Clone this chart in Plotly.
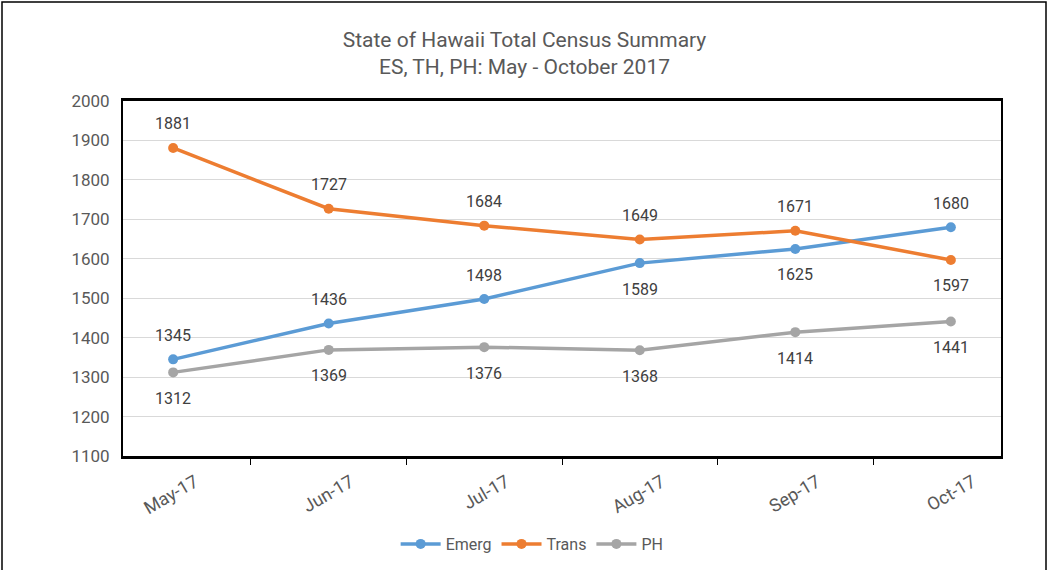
import plotly.graph_objects as go

months = ["May-17", "Jun-17", "Jul-17", "Aug-17", "Sep-17", "Oct-17"]
emerg = [1345, 1436, 1498, 1589, 1625, 1680]
trans = [1881, 1727, 1684, 1649, 1671, 1597]
ph = [1312, 1369, 1376, 1368, 1414, 1441]

emerg_pos = ["above", "above", "above", "below", "below", "above"]
trans_pos = ["above", "above", "above", "above", "above", "below"]
ph_pos = ["below"] * 6

FONT = "Liberation Sans Narrow, Roboto, Arial Narrow, sans-serif"
TXT = "#595959"

fig = go.Figure()
series = [("Emerg", emerg, "#5B9BD5", emerg_pos),
          ("Trans", trans, "#ED7D31", trans_pos),
          ("PH", ph, "#A5A5A5", ph_pos)]
for name, vals, col, pos in series:
    fig.add_trace(go.Scatter(x=months, y=vals, name=name, mode="lines+markers",
                             line=dict(color=col, width=3.5),
                             marker=dict(color=col, size=10)))
    for m, v, p in zip(months, vals, pos):
        fig.add_annotation(x=m, y=v, text=str(v), showarrow=False,
                           yshift=24 if p == "above" else -26,
                           font=dict(family=FONT, size=16, color="#404040"))

fig.update_layout(
    width=1049, height=570,
    paper_bgcolor="white", plot_bgcolor="white",
    margin=dict(l=123, r=48, t=101, b=114, autoexpand=False),
    font=dict(family=FONT, color=TXT),
    title=dict(text="State of Hawaii Total Census Summary<br>ES, TH, PH: May - October 2017",
               x=0.5, xanchor="center", y=0.918, yanchor="top",
               font=dict(family=FONT, size=21, color=TXT)),
    showlegend=True,
    legend=dict(orientation="h", x=0.466, xanchor="center", y=-0.2, yanchor="top",
                font=dict(family=FONT, size=16, color=TXT), itemwidth=40),
    xaxis=dict(showline=True, linecolor="black", linewidth=2.5, mirror=True,
               ticks="outside", tickson="boundaries", ticklen=6, tickcolor="black",
               tickangle=-30, tickfont=dict(family=FONT, size=18, color=TXT),
               ticklabelshift=22, ticklabelstandoff=6, automargin=False,
               showgrid=False),
    yaxis=dict(range=[1100, 2000], dtick=100, showline=True, linecolor="black",
               linewidth=2, mirror=True, gridcolor="#D9D9D9", gridwidth=1,
               tickfont=dict(family=FONT, size=17, color=TXT), ticks="",
               ticklabelstandoff=8, zeroline=False, automargin=False),
)

# outer chart border
fig.add_shape(type="rect", xref="paper", yref="paper",
              x0=(2 - 123) / 878, x1=(1046 - 123) / 878,
              y0=(456 - 590) / 355, y1=(456 - 2) / 355,
              line=dict(color="black", width=1.5), layer="below")

fig.write_html("out.html", config={"displayModeBar": False},
               post_script="document.body.style.margin='0';")
